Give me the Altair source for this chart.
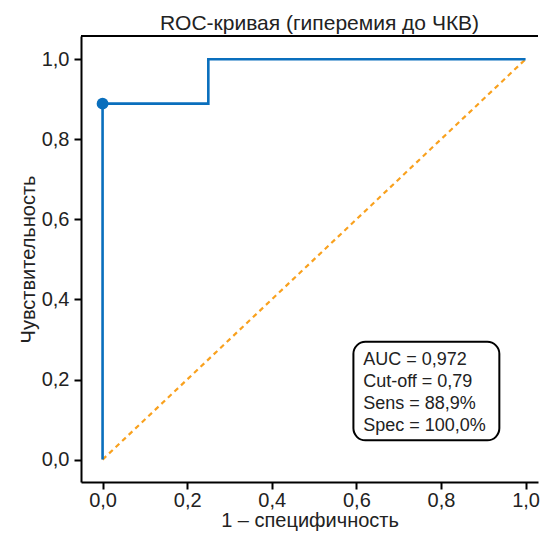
import altair as alt
import pandas as pd

# ROC curve (step) points
fpr = [0.0, 0.0, 0.25, 0.25, 1.0]
tpr = [0.0, 0.889, 0.889, 1.0, 1.0]
# reference diagonal
diag_x = [0.0, 1.0]
diag_y = [0.0, 1.0]
# optimal cut-off point
cut_x = [0.0]
cut_y = [0.889]
# annotation lines
stats = ["AUC = 0,972", "Cut-off = 0,79", "Sens = 88,9%", "Spec = 100,0%"]
tick_vals = [0.0, 0.2, 0.4, 0.6, 0.8, 1.0]

W, H = 457, 446
PX_PER_UNIT = 423.0
FONT = "Liberation Sans"
BLUE = "#0A6FBD"
ORANGE = "#F9A11E"

roc_df = pd.DataFrame({"fpr": fpr, "tpr": tpr, "i": list(range(len(fpr)))})
diag_df = pd.DataFrame({"fpr": diag_x, "tpr": diag_y})
cut_df = pd.DataFrame({"fpr": cut_x, "tpr": cut_y})
box_df = pd.DataFrame({"fpr": [0.593], "fpr2": [0.938], "tpr": [0.294], "tpr2": [0.048]})
txt_df = pd.DataFrame({"fpr": [0.616], "tpr": [0.235], "t": ["\n".join(stats)]})

lab = "replace(format(datum.value, '.1f'), '.', ',')"
xs = alt.Scale(domain=[-0.051, -0.051 + W / PX_PER_UNIT], nice=False, zero=False)
ys = alt.Scale(domain=[-0.056, 1.058], nice=False, zero=False)
xax = alt.Axis(values=tick_vals, labelExpr=lab, title="1 – специфичность")
yax = alt.Axis(values=tick_vals, labelExpr=lab, title="Чувствительность")

X = alt.X("fpr:Q", scale=xs, axis=xax)
Y = alt.Y("tpr:Q", scale=ys, axis=yax)

diag = alt.Chart(diag_df).mark_line(
    color=ORANGE, strokeWidth=2.2, strokeDash=[5, 4]
).encode(x=X, y=Y)

roc = alt.Chart(roc_df).mark_line(color=BLUE, strokeWidth=2.6).encode(
    x=X, y=Y, order="i:Q"
)

pt = alt.Chart(cut_df).mark_point(
    filled=True, color=BLUE, size=140, opacity=1
).encode(x=X, y=Y)

top_rule = alt.Chart(cut_df).mark_rule(color="black", strokeWidth=2).encode(
    x=alt.value(0), x2=alt.value(W), y=alt.value(0)
)

box = alt.Chart(box_df).mark_rect(
    fill="white", stroke="black", strokeWidth=2, cornerRadius=12
).encode(x=X, x2="fpr2:Q", y=Y, y2="tpr2:Q")

txt = alt.Chart(txt_df).mark_text(
    align="left", baseline="alphabetic", font=FONT, fontSize=18,
    lineBreak="\n", lineHeight=21.9, color="#222"
).encode(x=X, y=Y, text="t:N")

chart = alt.layer(diag, roc, pt, top_rule, box, txt).properties(
    width=W, height=H,
    title=alt.TitleParams("ROC-кривая (гиперемия до ЧКВ)", font=FONT, fontSize=21,
                          fontWeight="normal", color="#222", offset=1, anchor="middle", dx=10),
    autosize=alt.AutoSizeParams(type="none"),
    padding={"left": 73, "top": 28, "right": 2, "bottom": 50},
).configure_view(stroke=None).configure_axis(
    labelFont=FONT, labelFontSize=20, labelColor="#222",
    titleFont=FONT, titleFontSize=20, titleFontWeight="normal", titleColor="#222",
    tickSize=7, tickWidth=2, tickColor="black",
    domainWidth=2, domainColor="black", grid=False,
).configure_axisY(labelPadding=5, titlePadding=3).configure_axisX(labelPadding=1, titlePadding=0)

chart.save("out.html", embed_options={"renderer": "svg", "actions": False})
